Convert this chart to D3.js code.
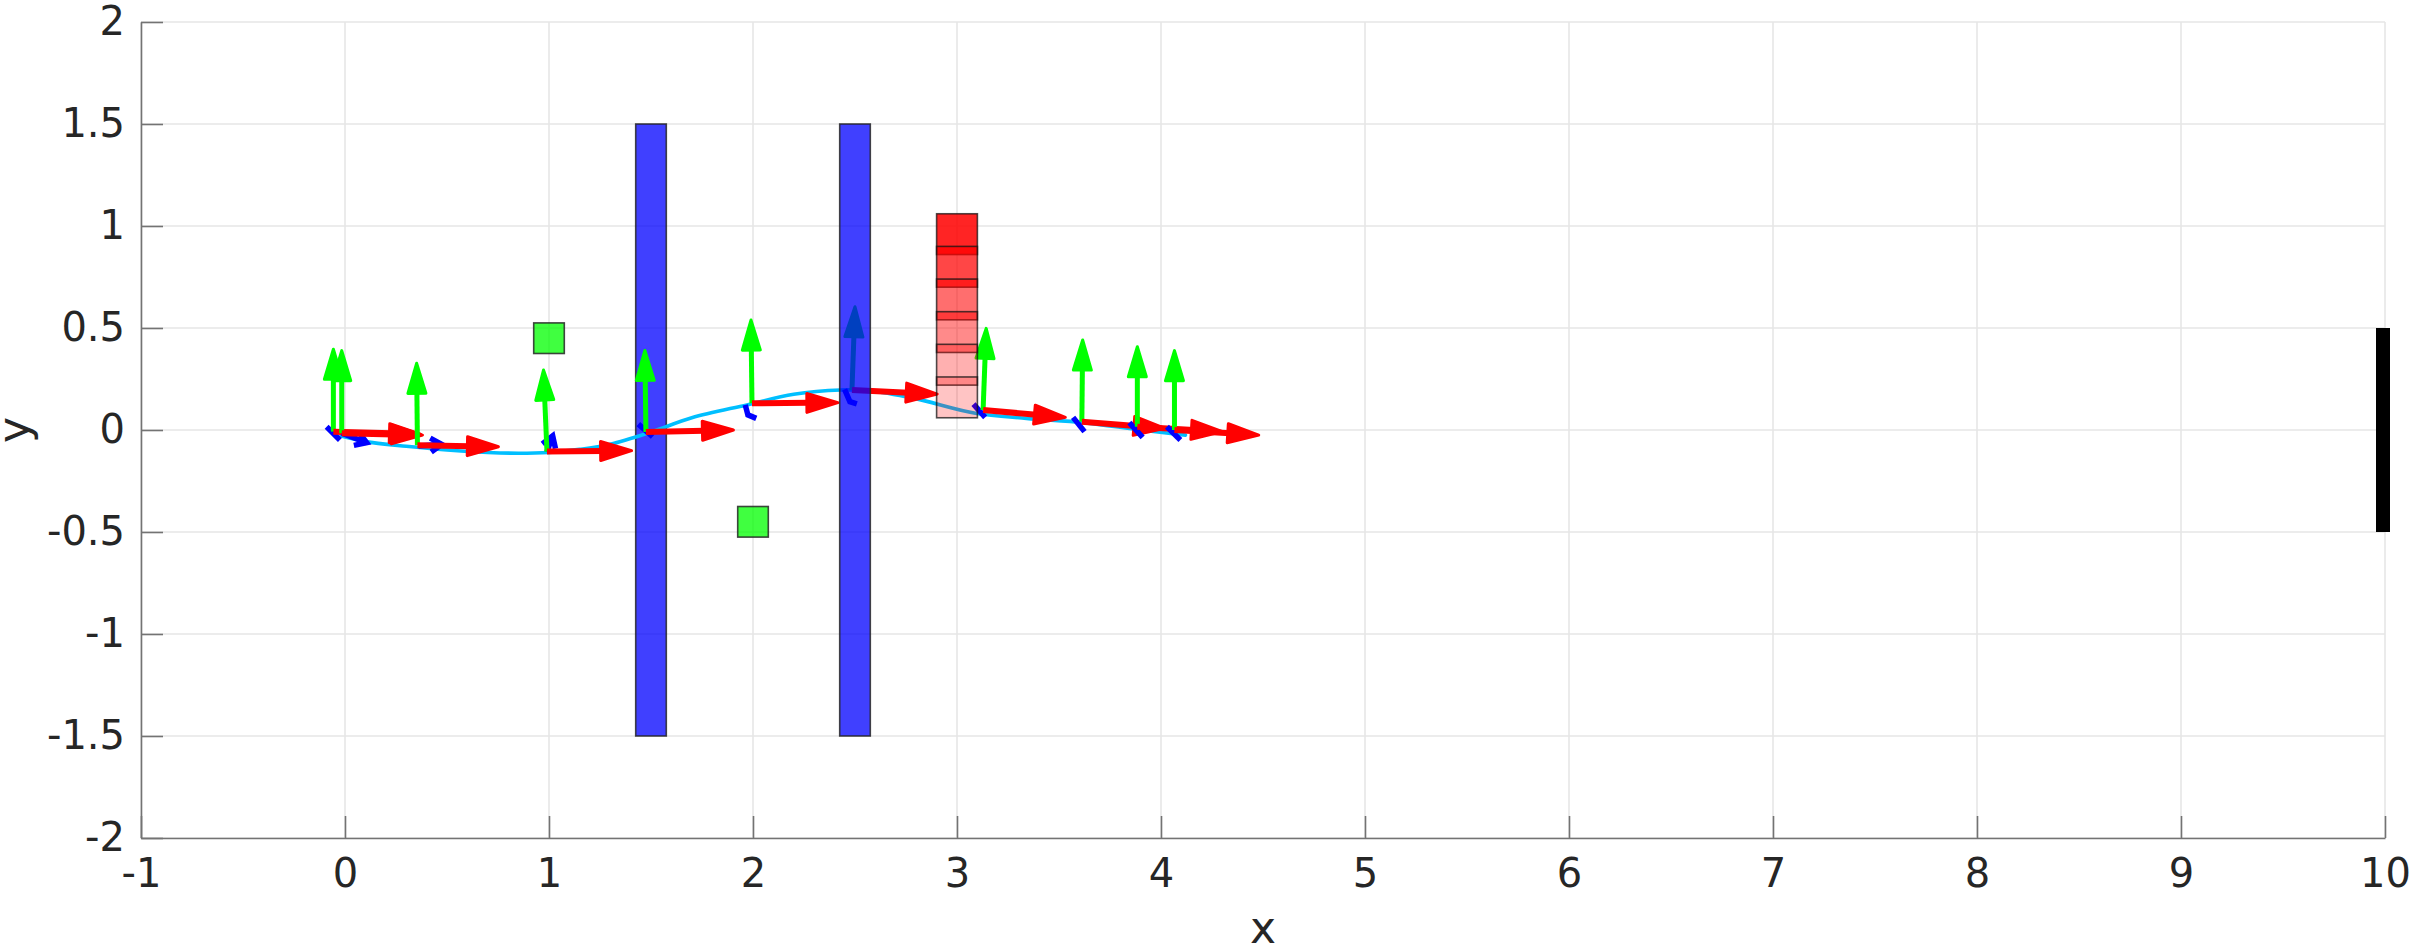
<!DOCTYPE html>
<html>
<head>
<meta charset="utf-8">
<script src="https://cdn.jsdelivr.net/npm/d3@7"></script>
<style>
  html, body { margin: 0; padding: 0; background: #ffffff; }
  svg { display: block; }
  text { font-family: "DejaVu Sans", sans-serif; fill: #262626; }
</style>
</head>
<body>
<svg id="chart" width="2417" height="952"></svg>
<script>
// ---------------- data ----------------
const xTicks = [-1, 0, 1, 2, 3, 4, 5, 6, 7, 8, 9, 10];
const yTicks = [-2, -1.5, -1, -0.5, 0, 0.5, 1, 1.5, 2];
const xLabel = "x";
const yLabel = "y";

// planned path (cyan curve)
const pathX = [-0.02, 0.1, 0.3, 0.5, 0.7, 0.85, 1.0, 1.15, 1.3, 1.5, 1.7, 1.97, 2.2, 2.43, 2.57, 2.79, 3.09, 3.34, 3.62, 3.9, 4.12];
const pathY = [-0.03, -0.057, -0.08, -0.098, -0.11, -0.114, -0.11, -0.095, -0.07, -0.01, 0.06, 0.123, 0.175, 0.196, 0.193, 0.155, 0.082, 0.057, 0.036, 0.0, -0.025];

// pose frames: origin, x-axis tip (red), y-axis tip (green)
const frameX = [-0.057, -0.016, 0.355, 0.99, 1.475, 1.995, 2.485, 3.128, 3.612, 3.884, 4.066];
const frameY = [-0.008, -0.016, -0.075, -0.106, -0.01, 0.131, 0.196, 0.098, 0.041, 0.016, 0.0];
const xTipX = [0.37, 0.38, 0.752, 1.405, 1.904, 2.416, 2.903, 3.531, 4.019, 4.301, 4.479];
const xTipY = [-0.02, -0.025, -0.082, -0.101, 0.0, 0.134, 0.176, 0.062, 0.008, -0.008, -0.025];
const yTipX = [-0.057, -0.016, 0.351, 0.973, 1.47, 1.99, 2.5, 3.143, 3.616, 3.884, 4.066];
const yTipY = [0.396, 0.389, 0.327, 0.294, 0.39, 0.539, 0.604, 0.498, 0.441, 0.408, 0.389];
// z-axis projections (blue)
const zAxisX = [[-0.09, -0.025], [-0.016, 0.106], [0.36, 0.474], [0.99, 1.018], [1.438, 1.508],
                [1.962, 1.975, 2.016], [2.449, 2.475, 2.509], [3.081, 3.138], [3.569, 3.625], [3.845, 3.910], [4.029, 4.095]];
const zAxisY = [[0.016, -0.049], [-0.016, -0.062], [-0.078, -0.07], [-0.106, -0.029], [0.029, -0.033],
                [0.123, 0.074, 0.057], [0.199, 0.139, 0.128], [0.127, 0.062], [0.062, -0.008], [0.036, -0.036], [0.016, -0.049]];
const zAxisHead = [0, 1, 1, 1, 0, 0, 0, 0, 0, 0, 0];

// obstacles
const wallX = [1.5, 2.5];
const wallHalfWidth = 0.075;
const wallYMin = -1.5, wallYMax = 1.5;
const boxX = [1, 2];
const boxY = [0.45, -0.45];
const boxHalf = 0.075;
const heatX = 3;
const heatY = [0.96, 0.80, 0.64, 0.48, 0.32, 0.16];
const heatAlpha = [0.86, 0.725, 0.57, 0.46, 0.31, 0.23];
const heatHalfW = 0.1, heatHalfH = 0.1;
const goalX = 10;
const goalY = [-0.5, 0.5];

// ---------------- drawing ----------------
const svg = d3.select("#chart");
const W = 2417, H = 952;
const mLeft = 141, mRight = 2385, mTop = 22, mBottom = 838;

const x = d3.scaleLinear().domain([-1, 10]).range([mLeft, mRight]);
const y = d3.scaleLinear().domain([-2, 2]).range([mBottom, mTop]);

svg.append("rect").attr("width", W).attr("height", H).attr("fill", "#ffffff");

// grid
const grid = svg.append("g");
grid.selectAll("line.gx").data(xTicks).join("line")
  .attr("x1", d => x(d)).attr("x2", d => x(d))
  .attr("y1", y(-2)).attr("y2", y(2))
  .attr("stroke", "#e6e6e6").attr("stroke-width", 1.6);
grid.selectAll("line.gy").data(yTicks).join("line")
  .attr("x1", x(-1)).attr("x2", x(10))
  .attr("y1", d => y(d)).attr("y2", d => y(d))
  .attr("stroke", "#e6e6e6").attr("stroke-width", 1.6);

const edge = "rgba(38,38,38,0.85)";

function drawWall(g, cx) {
  g.append("rect")
    .attr("x", x(cx - wallHalfWidth)).attr("y", y(wallYMax))
    .attr("width", x(cx + wallHalfWidth) - x(cx - wallHalfWidth))
    .attr("height", y(wallYMin) - y(wallYMax))
    .attr("fill", "rgba(0,0,255,0.75)")
    .attr("stroke", edge).attr("stroke-width", 1.6);
}

// first wall (under path)
drawWall(svg.append("g"), wallX[0]);

// green boxes
svg.append("g").selectAll("rect").data(boxX).join("rect")
  .attr("x", d => x(d - boxHalf)).attr("y", (d, i) => y(boxY[i] + boxHalf))
  .attr("width", d => x(d + boxHalf) - x(d - boxHalf))
  .attr("height", (d, i) => y(boxY[i] - boxHalf) - y(boxY[i] + boxHalf))
  .attr("fill", "rgba(0,255,0,0.75)")
  .attr("stroke", edge).attr("stroke-width", 1.6);

// path
const pathData = pathX.map((v, i) => [v, pathY[i]]);
svg.append("path")
  .datum(pathData)
  .attr("d", d3.line().x(d => x(d[0])).y(d => y(d[1])).curve(d3.curveCatmullRom.alpha(0.5)))
  .attr("fill", "none").attr("stroke", "#00bfff").attr("stroke-width", 3.6)
  .attr("stroke-linecap", "round");

// arrows
function arrow(g, x0, y0, x1, y1, color, width, headLen, headW) {
  const dx = x1 - x0, dy = y1 - y0;
  const len = Math.hypot(dx, dy) || 1;
  const ux = dx / len, uy = dy / len;
  const nx = -uy, ny = ux;
  const bx = x1 - ux * headLen, by = y1 - uy * headLen;
  g.append("line")
    .attr("x1", x0).attr("y1", y0).attr("x2", bx + ux * 2).attr("y2", by + uy * 2)
    .attr("stroke", color).attr("stroke-width", width);
  g.append("path")
    .attr("d", `M${x1},${y1}L${bx + nx * headW / 2},${by + ny * headW / 2}L${bx - nx * headW / 2},${by - ny * headW / 2}Z`)
    .attr("fill", color).attr("stroke", color).attr("stroke-width", 3)
    .attr("stroke-linejoin", "round");
}

const frames = svg.append("g");
frameX.forEach((fx, i) => {
  const g = frames.append("g");
  const ox = x(fx), oy = y(frameY[i]);
  // z axis (blue)
  const pts = zAxisX[i].map((v, k) => [x(v), y(zAxisY[i][k])]);
  g.append("path")
    .attr("d", d3.line()(pts))
    .attr("fill", "none").attr("stroke", "#0000ff").attr("stroke-width", 5.5)
    .attr("stroke-linejoin", "miter");
  if (zAxisHead[i]) {
    const p0 = pts[0], p1 = pts[pts.length - 1];
    const dx = p1[0] - p0[0], dy = p1[1] - p0[1];
    const len = Math.hypot(dx, dy) || 1;
    const ux = dx / len, uy = dy / len, nx = -uy, ny = ux;
    const hl = 11, hw = 7;
    g.append("path")
      .attr("d", `M${p1[0] - ux * hl + nx * hw},${p1[1] - uy * hl + ny * hw}L${p1[0]},${p1[1]}L${p1[0] - ux * hl - nx * hw},${p1[1] - uy * hl - ny * hw}`)
      .attr("fill", "none").attr("stroke", "#0000ff").attr("stroke-width", 5.5);
  }
  // y axis (green)
  arrow(g, ox, oy, x(yTipX[i]), y(yTipY[i]), "#00ff00", 5, 30, 18);
  // x axis (red)
  arrow(g, ox, oy, x(xTipX[i]), y(xTipY[i]), "#ff0000", 6, 31, 19);
});

// second wall (over frames)
drawWall(svg.append("g"), wallX[1]);

// heat stack
svg.append("g").selectAll("rect").data(heatY).join("rect")
  .attr("x", x(heatX - heatHalfW)).attr("y", d => y(d + heatHalfH))
  .attr("width", x(heatX + heatHalfW) - x(heatX - heatHalfW))
  .attr("height", d => y(d - heatHalfH) - y(d + heatHalfH))
  .attr("fill", (d, i) => `rgba(255,0,0,${heatAlpha[i]})`)
  .attr("stroke", "rgba(20,20,20,0.75)").attr("stroke-width", 1.6);

// goal line
svg.append("line")
  .attr("x1", x(goalX) - 2).attr("x2", x(goalX) - 2)
  .attr("y1", y(goalY[1])).attr("y2", y(goalY[0]))
  .attr("stroke", "#000000").attr("stroke-width", 14);

// axes
const axisColor = "#737373";
const gx = svg.append("g").attr("transform", `translate(0,${mBottom})`)
  .call(d3.axisBottom(x).tickValues(xTicks).tickSizeInner(-22).tickSizeOuter(0)
        .tickPadding(21).tickFormat(d => String(d)));
const gy = svg.append("g").attr("transform", `translate(${mLeft},0)`)
  .call(d3.axisLeft(y).tickValues(yTicks).tickSizeInner(-22).tickSizeOuter(0)
        .tickPadding(16).tickFormat(d => String(d)));
[gx, gy].forEach(g => {
  g.select(".domain").attr("stroke", axisColor).attr("stroke-width", 1.6);
  g.selectAll(".tick line").attr("stroke", axisColor).attr("stroke-width", 1.6);
  g.selectAll(".tick text").attr("font-family", "DejaVu Sans").attr("font-size", 40)
    .attr("fill", "#262626");
});

// axis labels
svg.append("text").attr("x", (mLeft + mRight) / 2).attr("y", 943)
  .attr("text-anchor", "middle").attr("font-size", 44).text(xLabel);
svg.append("text").attr("transform", `translate(29,${(mTop + mBottom) / 2}) rotate(-90)`)
  .attr("text-anchor", "middle").attr("font-size", 44).text(yLabel);
</script>
</body>
</html>
